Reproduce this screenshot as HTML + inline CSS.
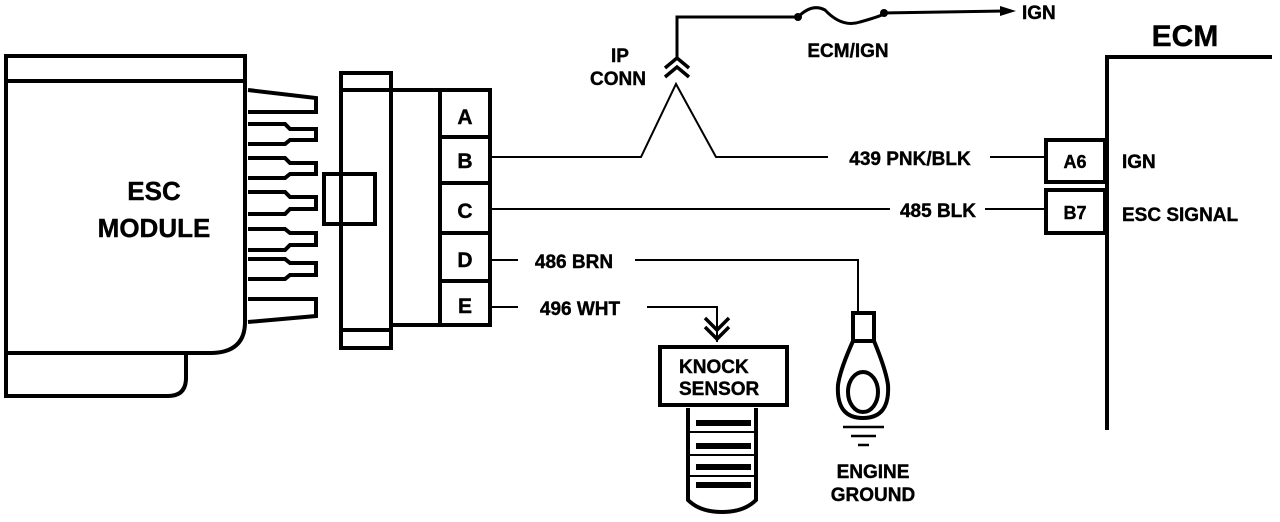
<!DOCTYPE html>
<html><head><style>
html,body{margin:0;padding:0;background:#fff;}
svg{display:block;}
text{font-family:"Liberation Sans",sans-serif;font-weight:bold;fill:#000;stroke:#000;stroke-width:0.4;}
</style></head><body>
<svg width="1280" height="522" viewBox="0 0 1280 522" xmlns="http://www.w3.org/2000/svg">
<g fill="none" stroke="#000" stroke-width="4">
<path d="M6,56 H245 V322 Q245,352 212,353 H6 Z"/>
<line x1="6" y1="81" x2="245" y2="81"/>
<path d="M6,353 V396 H168 Q186,396 186,378 V353"/>
<path d="M248,90 L316,98 V112 H248"/>
<path d="M248,124 H285 L290,129 H316 V140 H290 L285,144 H248"/>
<path d="M248,158 H285 L290,163 H316 V174 H290 L285,178 H248"/>
<path d="M248,192 H285 L290,197 H316 V209 H290 L285,214 H248"/>
<path d="M248,229 H285 L290,233 H316 V245 H290 L285,250 H248"/>
<path d="M248,259 H285 L290,263 H316 V275 H290 L285,279 H248"/>
<path d="M248,299 H316 V316 L248,322"/>
<rect x="341" y="73" width="50" height="275"/>
<line x1="341" y1="90" x2="391" y2="90"/>
<line x1="341" y1="330" x2="391" y2="330"/>
<rect x="324" y="174" width="51" height="50"/>
<rect x="391" y="90" width="99" height="235"/>
<line x1="440" y1="90" x2="440" y2="325"/>
<line x1="440" y1="137" x2="490" y2="137"/>
<line x1="440" y1="183" x2="490" y2="183"/>
<line x1="440" y1="233" x2="490" y2="233"/>
<line x1="440" y1="281" x2="490" y2="281"/>
<path d="M1107,430 V57 H1272"/>
<rect x="1046" y="140" width="59" height="42"/>
<rect x="1046" y="190" width="59" height="43"/>
<rect x="660" y="347" width="127" height="58"/>
<path d="M688,408 V500 Q700,512 722,512 Q744,512 756,500 V408"/>
<path d="M798,17 Q812,3 825,10 Q842,28 860,22 Q878,17 884,14" stroke-width="3"/>
</g>
<g fill="none" stroke="#000" stroke-width="2">
<polyline points="490,157 641,157 676,84 716,157 828,157"/>
<line x1="990" y1="157" x2="1046" y2="157"/>
<line x1="490" y1="209" x2="890" y2="209"/>
<line x1="985" y1="209" x2="1046" y2="209"/>
<line x1="490" y1="260" x2="518" y2="260"/>
<polyline points="635,260 858,260 858,312"/>
<line x1="490" y1="307" x2="518" y2="307"/>
<polyline points="647,307 717,307 717,342"/>
<polyline points="677,60 677,17 798,17" stroke-width="3"/>
<line x1="884" y1="13" x2="1005" y2="11" stroke-width="3"/>
<line x1="688" y1="432" x2="756" y2="432"/>
<line x1="688" y1="455" x2="756" y2="455"/>
<line x1="688" y1="476" x2="756" y2="476"/>
</g>
<polygon points="1000,6 1016,11 1000,16" fill="#000"/>
<circle cx="798" cy="17" r="4" fill="#000"/>
<circle cx="884" cy="13" r="4" fill="#000"/>
<g fill="none" stroke="#000" stroke-width="3.5">
<polyline points="665,68 677,58 689,68"/>
<polyline points="665,77 677,67 689,77"/>
<polyline points="705,318 717,330 729,318"/>
<polyline points="705,327 717,339 729,327"/>
</g>
<g fill="#000">
<rect x="696" y="420" width="55" height="6"/>
<rect x="696" y="443" width="55" height="6"/>
<rect x="696" y="464" width="55" height="6"/>
<rect x="696" y="482" width="55" height="6"/>
</g>
<g fill="none" stroke="#000" stroke-width="4">
<rect x="853" y="313" width="21" height="28"/>
<path d="M853,341 Q840,370 838,385 Q836,418 863,418 Q890,418 888,385 Q886,370 874,341"/>
<ellipse cx="863" cy="392" rx="15" ry="20"/>
</g>
<g stroke="#000" stroke-width="2.5">
<line x1="843" y1="427" x2="884" y2="427"/>
<line x1="851" y1="436" x2="876" y2="436"/>
<line x1="858" y1="445" x2="869" y2="445"/>
</g>
<text x="154" y="200" font-size="26" text-anchor="middle">ESC</text>
<text x="154" y="237" font-size="26" text-anchor="middle">MODULE</text>
<text x="465" y="124" font-size="21" text-anchor="middle">A</text>
<text x="465" y="168" font-size="21" text-anchor="middle">B</text>
<text x="465" y="218" font-size="21" text-anchor="middle">C</text>
<text x="465" y="267" font-size="21" text-anchor="middle">D</text>
<text x="465" y="313" font-size="21" text-anchor="middle">E</text>
<text x="620" y="62" font-size="19" text-anchor="middle">IP</text>
<text x="618" y="85" font-size="19" text-anchor="middle">CONN</text>
<text x="848" y="57" font-size="19" text-anchor="middle">ECM/IGN</text>
<text x="1022" y="19" font-size="19">IGN</text>
<text x="1185" y="46" font-size="30" text-anchor="middle">ECM</text>
<text x="910" y="165" font-size="19" text-anchor="middle">439 PNK/BLK</text>
<text x="938" y="217" font-size="19" text-anchor="middle">485 BLK</text>
<text x="574" y="268" font-size="19" text-anchor="middle">486 BRN</text>
<text x="580" y="315" font-size="19" text-anchor="middle">496 WHT</text>
<text x="1075" y="168" font-size="18" text-anchor="middle">A6</text>
<text x="1075" y="219" font-size="18" text-anchor="middle">B7</text>
<text x="1122" y="168" font-size="19">IGN</text>
<text x="1122" y="221" font-size="19">ESC SIGNAL</text>
<text x="679" y="373" font-size="19">KNOCK</text>
<text x="679" y="395" font-size="19">SENSOR</text>
<text x="873" y="478" font-size="19" text-anchor="middle">ENGINE</text>
<text x="873" y="501" font-size="19" text-anchor="middle">GROUND</text>
</svg>
</body></html>
